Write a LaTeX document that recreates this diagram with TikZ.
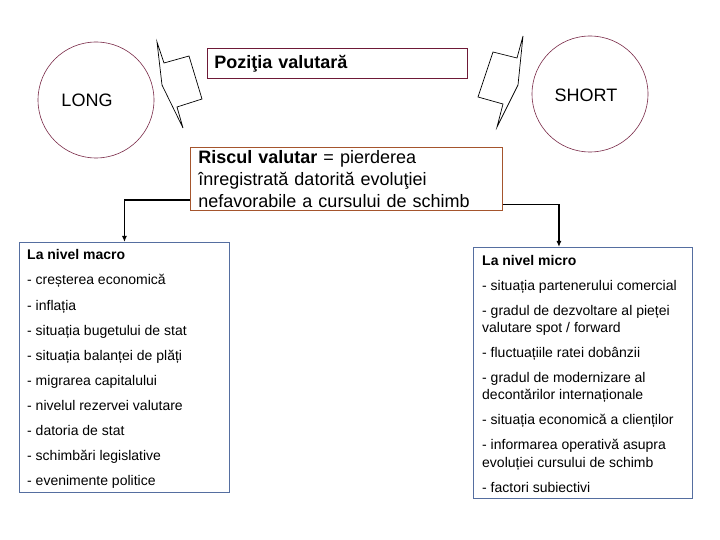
\documentclass[tikz,border=0pt]{standalone}
\usepackage{fontspec}
\setmainfont{Liberation Sans}
\usetikzlibrary{arrows.meta}
\definecolor{ringcol}{RGB}{120,40,70}
\definecolor{posframe}{RGB}{110,25,55}
\definecolor{riskframe}{RGB}{165,85,45}
\definecolor{listframe}{RGB}{85,110,160}

\begin{document}
\begin{tikzpicture}[x=1bp,y=-1bp,
  big/.style={font=\fontsize{18bp}{22bp}\selectfont},
  item/.style={font=\fontsize{14bp}{17bp}\selectfont,anchor=base west,inner sep=0pt},
  ring/.style={draw=ringcol,line width=0.6bp,circle,minimum size=116bp,inner sep=0pt},
  listbox/.style={draw=listframe,line width=0.9bp,anchor=north west,inner sep=0pt},
  conn/.style={line width=1.4bp,-{Latex[length=6bp,width=5bp]}},
  bolt/.style={line width=0.7bp}]
\useasboundingbox (0,0) rectangle (720,540);
\node[ring] (lring) at (96,100) {};
\node[ring] (sring) at (590,94) {};
\node[big] (long) at (87,100) {LONG};
\node[big] (short) at (586,95) {SHORT};
\draw[bolt] (157,42) -- (164,63) -- (189,56) -- (202,99) -- (177,107) -- (183,128) -- (162,85) -- cycle;
\draw[bolt] (523,36) -- (517,58) -- (493,52) -- (478,97) -- (503,104) -- (497,127) -- (518,85) -- cycle;
\node[big,draw=posframe,line width=0.9bp,anchor=north west,text width=246bp,inner xsep=7bp,inner ysep=0pt,minimum height=30bp,align=left] (pos) at (207,48) {\textbf{Poziţia valutară}};
\node[big,draw=riskframe,line width=0.9bp,anchor=north west,text width=296bp,inner xsep=8bp,inner ysep=3bp,align=left] (risk) at (190,147) {\textbf{Riscul valutar} = pierderea\\ înregistrată datorită evoluţiei\\ nefavorabile a cursului de schimb};
\node[listbox,minimum width=210bp,minimum height=250bp] (macro) at (19,242) {};
\node[listbox,minimum width=219bp,minimum height=251bp] (micro) at (473,247) {};
\foreach \t [count=\i from 0] in {\textbf{La nivel macro}, - creșterea economică, - inflația,
    - situația bugetului de stat, - situația balanței de plăți, - migrarea capitalului,
    - nivelul rezervei valutare, - datoria de stat, - schimbări legislative, - evenimente politice}
  \node[item] (mac\i) at (27,260+25*\i) {\t};
\foreach \y/\t [count=\i from 0] in {266/{\textbf{La nivel micro}}, 290/{- situația partenerului comercial},
    315/{- gradul de dezvoltare al pieței}, 332/{valutare spot / forward}, 357/{- fluctuațiile ratei dobânzii},
    382/{- gradul de modernizare al}, 399/{decontărilor internaționale}, 424/{- situația economică a clienților},
    449/{- informarea operativă asupra}, 467/{evoluției cursului de schimb}, 492/{- factori subiectivi}}
  \node[item] (mic\i) at (482,\y) {\t};
\draw[conn,line width=1.8bp] ([yshift=11bp]risk.south west) -| (macro.north);
\draw[conn,line width=1.2bp] ([yshift=7bp]risk.south east) -| ([xshift=-24bp]micro.north);
\end{tikzpicture}
\end{document}
